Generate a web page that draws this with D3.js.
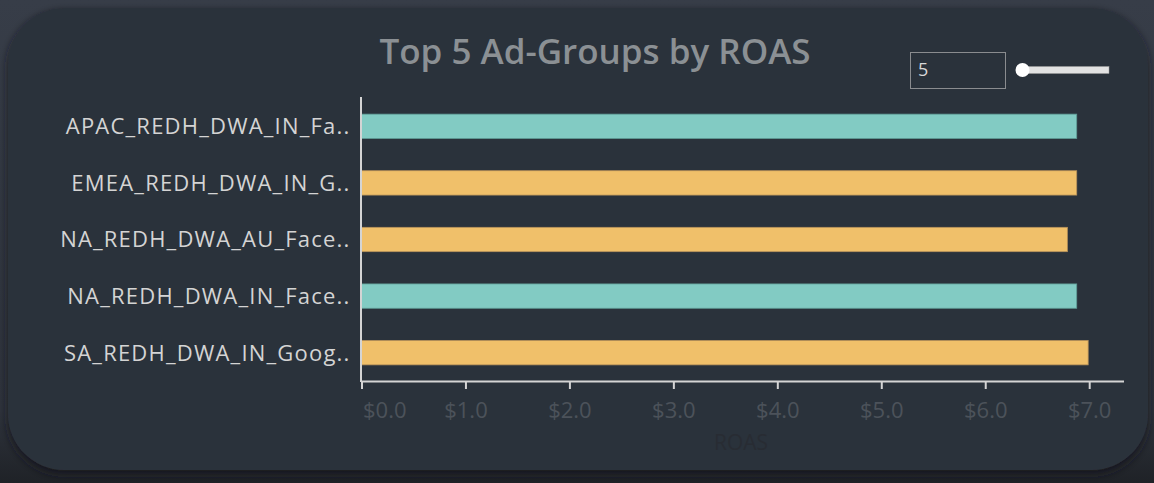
<!DOCTYPE html>
<html>
<head>
<meta charset="utf-8">
<script src="https://cdn.jsdelivr.net/npm/d3@7"></script>
<style>
  html, body { margin: 0; padding: 0; background: #323843; }
  svg { display: block; }
</style>
</head>
<body>
<svg id="chart" width="1154" height="483"></svg>
<script>
const categories = [
  "APAC_REDH_DWA_IN_Fa..",
  "EMEA_REDH_DWA_IN_G..",
  "NA_REDH_DWA_AU_Face..",
  "NA_REDH_DWA_IN_Face..",
  "SA_REDH_DWA_IN_Goog.."
];
const roasValues = [6.88, 6.88, 6.79, 6.88, 6.99];
const colorGroups = ["teal", "gold", "gold", "teal", "gold"];
const tickValues = [0, 1, 2, 3, 4, 5, 6, 7];
const title = "Top 5 Ad-Groups by ROAS";
const axisTitle = "ROAS";
const topN = "5";

const W = 1154, H = 483;
const svg = d3.select("#chart");
const font = "'Open Sans', 'Noto Sans', sans-serif";

const defs = svg.append("defs");
const bgGrad = defs.append("linearGradient").attr("id", "bgGrad")
  .attr("x1", 0).attr("y1", 0).attr("x2", 0).attr("y2", 1);
bgGrad.append("stop").attr("offset", "0%").attr("stop-color", "#373d48");
bgGrad.append("stop").attr("offset", "85%").attr("stop-color", "#2e333c");
bgGrad.append("stop").attr("offset", "100%").attr("stop-color", "#1f2227");
svg.append("rect").attr("width", W).attr("height", H).attr("fill", "url(#bgGrad)");

const f = defs.append("filter").attr("id", "shadow")
  .attr("x", "-5%").attr("y", "-5%").attr("width", "110%").attr("height", "115%");
f.append("feDropShadow").attr("dx", 0).attr("dy", 4).attr("stdDeviation", 4)
  .attr("flood-color", "#15171b").attr("flood-opacity", 0.9);

svg.append("rect")
  .attr("x", 8).attr("y", 8).attr("width", 1140).attr("height", 462)
  .attr("rx", 56).attr("ry", 56)
  .attr("fill", "#2c313b")
  .attr("filter", "url(#shadow)");

// Title
svg.append("text")
  .attr("x", 595).attr("y", 64)
  .attr("text-anchor", "middle")
  .attr("font-family", font)
  .attr("font-weight", 600)
  .attr("font-size", 35)
  .attr("fill", "#8b9094")
  .text(title);

// Scales
const x = d3.scaleLinear().domain([0, 7.33]).range([361.5, 1123.5]);
const y = d3.scaleBand().domain(categories).range([98, 381]).paddingInner(0.57).paddingOuter(0.285);

const colorScale = d3.scaleOrdinal().domain(["teal", "gold"]).range(["#82cbc3", "#f0c06a"]);
const strokeScale = d3.scaleOrdinal().domain(["teal", "gold"]).range(["#5f9c96", "#b8925a"]);

// Bars
svg.append("g").selectAll("rect")
  .data(categories)
  .join("rect")
  .attr("x", x(0))
  .attr("y", d => y(d))
  .attr("width", (d, i) => x(roasValues[i]) - x(0))
  .attr("height", y.bandwidth())
  .attr("fill", (d, i) => colorScale(colorGroups[i]))
  .attr("stroke", (d, i) => strokeScale(colorGroups[i]))
  .attr("stroke-width", 0.8);

// Y labels
svg.append("g").selectAll("text")
  .data(categories)
  .join("text")
  .attr("x", 350.5)
  .attr("y", d => y(d) + y.bandwidth() / 2)
  .attr("dy", "0.36em")
  .attr("text-anchor", "end")
  .attr("font-family", font)
  .attr("font-size", 22)
  .attr("letter-spacing", 1.2)
  .attr("fill", "#d4d4d4")
  .text(d => d);

// Y axis line
svg.append("line")
  .attr("x1", 361).attr("x2", 361)
  .attr("y1", 97).attr("y2", 382)
  .attr("stroke", "#d4d4d4").attr("stroke-width", 2);

// X axis
const xAxis = d3.axisBottom(x)
  .tickValues(tickValues)
  .tickSize(8)
  .tickSizeOuter(0)
  .tickPadding(13)
  .tickFormat(d => "$" + d3.format(".1f")(d));
const gx = svg.append("g").attr("transform", "translate(0,381)").call(xAxis);
gx.select(".domain").attr("stroke", "#d4d4d4").attr("stroke-width", 2);
gx.selectAll(".tick line").attr("stroke", "#d4d4d4").attr("stroke-width", 2);
gx.selectAll(".tick text")
  .attr("font-family", font)
  .attr("font-size", 22)
  .attr("fill", "#4c525a");
gx.selectAll(".tick text").filter(d => d === 0).attr("text-anchor", "start").attr("dx", 1);

// Axis title
svg.append("text")
  .attr("x", 741).attr("y", 450)
  .attr("text-anchor", "middle")
  .attr("font-family", font)
  .attr("font-size", 21)
  .attr("fill", "#282c33")
  .text(axisTitle);

// Top-N control
svg.append("rect")
  .attr("x", 910.5).attr("y", 52.5).attr("width", 95).attr("height", 36)
  .attr("fill", "none").attr("stroke", "#8a8c8f").attr("stroke-width", 1);
svg.append("text")
  .attr("x", 918).attr("y", 70).attr("dy", "0.35em")
  .attr("font-family", font).attr("font-size", 18)
  .attr("fill", "#d8d8d8")
  .text(topN);
svg.append("rect")
  .attr("x", 1026).attr("y", 66.5).attr("width", 83).attr("height", 7)
  .attr("fill", "#e2e2e2").attr("stroke", "#9a9a9a").attr("stroke-width", 0.5);
svg.append("circle")
  .attr("cx", 1022.5).attr("cy", 70).attr("r", 7)
  .attr("fill", "#ffffff");
</script>
</body>
</html>
